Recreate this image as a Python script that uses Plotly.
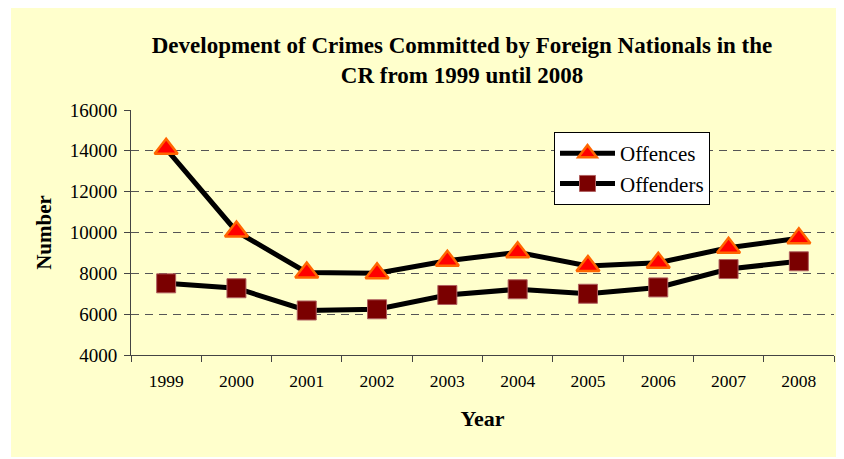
import plotly.graph_objects as go

years = ["1999", "2000", "2001", "2002", "2003", "2004", "2005", "2006", "2007", "2008"]
offences = [14100, 10050, 8040, 8000, 8620, 9030, 8360, 8520, 9250, 9720]
offenders = [7510, 7270, 6180, 6240, 6940, 7220, 7000, 7310, 8210, 8590]
y_ticks = [4000, 6000, 8000, 10000, 12000, 14000, 16000]

# page renders the figure with an 8px body offset
OFF = 8
W, H = 844, 459
# reference plot area: x 131..834, y 110..355
L, T = 131 - OFF, 110 - OFF
pw, ph = 834 - 131, 355 - 110
R = W - L - pw
B = H - T - ph

def px(X):
    return (X - OFF - L) / pw

def py(Y):
    return (T + ph - (Y - OFF)) / ph

font_fam = "Liberation Serif, Times New Roman, serif"

fig = go.Figure()
fig.add_trace(go.Scatter(
    x=years, y=offences, name="Offences", mode="lines+markers",
    line=dict(color="black", width=5),
    marker=dict(symbol="triangle-up", size=20, color="#FF0000",
                line=dict(color="#FF6600", width=2.5)),
))
fig.add_trace(go.Scatter(
    x=years, y=offenders, name="Offenders", mode="lines+markers",
    line=dict(color="black", width=5),
    marker=dict(symbol="square", size=19, color="#7A0000",
                line=dict(color="#B06060", width=1)),
))

fig.add_shape(type="rect", xref="paper", yref="paper",
              x0=px(11), x1=px(842), y0=py(457), y1=py(6),
              fillcolor="#FFFFCC", line=dict(width=0), layer="below")

fig.update_layout(
    width=W, height=H,
    margin=dict(l=L, r=R, t=T, b=B, pad=0),
    paper_bgcolor="white",
    plot_bgcolor="white",
    font=dict(family=font_fam, color="black", size=17),
    title=dict(
        text="<b>Development of Crimes Committed by Foreign Nationals in the<br>CR from 1999 until 2008</b>",
        x=(462 - OFF) / W, xanchor="center", y=1 - (53 - OFF) / H, yanchor="middle",
        font=dict(family=font_fam, size=23, color="black"),
    ),
    showlegend=True,
    legend=dict(
        x=px(554), y=py(132), xanchor="left", yanchor="top",
        bgcolor="white", bordercolor="black", borderwidth=1,
        font=dict(family=font_fam, size=21, color="black"),
        itemwidth=55, tracegroupgap=2,
    ),
    xaxis=dict(
        type="category", range=[-0.5, 9.5],
        tickson="boundaries", ticks="outside", ticklen=6, tickcolor="#444",
        showline=True, linecolor="#444", linewidth=1,
        showgrid=False, tickfont=dict(size=17.5, family=font_fam),
        ticklabelstandoff=10,
        title=dict(text="<b>Year</b>", font=dict(size=22, family=font_fam), standoff=20),
        fixedrange=True,
    ),
    yaxis=dict(
        range=[4000, 16000], tickvals=y_ticks, ticktext=[str(v) for v in y_ticks],
        ticks="outside", ticklen=6, tickcolor="#444",
        showline=True, linecolor="#444", linewidth=1,
        showgrid=True, gridcolor="#555", gridwidth=1, griddash="8px,6px",
        zeroline=False, tickfont=dict(size=19, family=font_fam),
        ticklabelstandoff=3,
        title=dict(text="<b>Number</b>", font=dict(size=21, family=font_fam), standoff=12),
        fixedrange=True,
    ),
)

fig.write_html("out.html")
